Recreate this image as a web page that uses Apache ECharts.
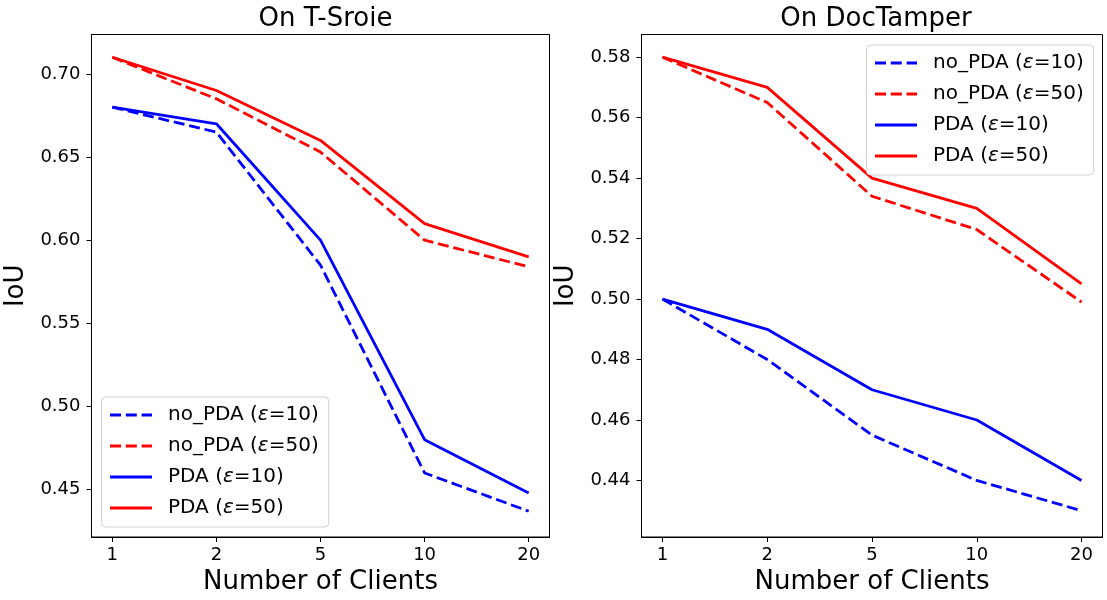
<!DOCTYPE html>
<html>
<head>
<meta charset="utf-8">
<script src="https://cdn.jsdelivr.net/npm/echarts@6/dist/echarts.min.js"></script>
<style>html,body{margin:0;padding:0;background:#fff;}#c{width:1107px;height:600px;}</style>
</head>
<body>
<div id="c"></div>
<script>
const categories = ['1', '2', '5', '10', '20'];
const seriesNames = ['no_PDA (ε=10)', 'no_PDA (ε=50)', 'PDA (ε=10)', 'PDA (ε=50)'];
// On T-Sroie
const sroieNoPDA10 = [0.680, 0.665, 0.585, 0.460, 0.437];
const sroieNoPDA50 = [0.710, 0.685, 0.653, 0.600, 0.584];
const sroiePDA10 = [0.680, 0.670, 0.600, 0.480, 0.448];
const sroiePDA50 = [0.710, 0.690, 0.660, 0.610, 0.590];
// On DocTamper
const docNoPDA10 = [0.500, 0.480, 0.455, 0.440, 0.430];
const docNoPDA50 = [0.580, 0.565, 0.534, 0.523, 0.499];
const docPDA10 = [0.500, 0.490, 0.470, 0.460, 0.440];
const docPDA50 = [0.580, 0.570, 0.540, 0.530, 0.505];
const sroieTicks = [0.45, 0.50, 0.55, 0.60, 0.65, 0.70];
const docTicks = [0.44, 0.46, 0.48, 0.50, 0.52, 0.54, 0.56, 0.58];

const FONT = 'DejaVu Sans';
const catIdx = categories.map((_, i) => i);
const toPts = arr => arr.map((v, i) => [i, v]);

function xAxis(gi) {
  return {
    type: 'value', gridIndex: gi, min: -0.2, max: 4.2,
    name: 'Number of Clients', nameLocation: 'middle', nameGap: 32,
    nameTextStyle: { fontSize: 26, fontFamily: FONT, color: '#000' },
    axisLine: { show: true, onZero: false, lineStyle: { color: '#000', width: 1 } },
    axisTick: { show: true, length: 5, lineStyle: { color: '#000' }, customValues: catIdx },
    axisLabel: { fontSize: 18, fontFamily: FONT, color: '#000', margin: 9, customValues: catIdx,
      formatter: v => categories[Math.round(v)] },
    splitLine: { show: false }
  };
}
function yAxis(gi, min, max, ticks) {
  return {
    type: 'value', gridIndex: gi, min: min, max: max,
    name: 'IoU', nameLocation: 'middle', nameGap: 62,
    nameTextStyle: { fontSize: 26, fontFamily: FONT, color: '#000' },
    axisLine: { show: true, onZero: false, lineStyle: { color: '#000', width: 1 } },
    axisTick: { show: true, length: 5, lineStyle: { color: '#000' }, customValues: ticks },
    axisLabel: { fontSize: 18, fontFamily: FONT, color: '#000', margin: 11, customValues: ticks,
      formatter: v => v.toFixed(2) },
    splitLine: { show: false }
  };
}
const DASH = [11, 4.8];
const styles = [
  { color: '#0000ff', type: DASH },
  { color: '#ff0000', type: DASH },
  { color: '#0000ff', type: 'solid' },
  { color: '#ff0000', type: 'solid' }
];
function mk(name, data, gi, st) {
  return {
    name: name, type: 'line', xAxisIndex: gi, yAxisIndex: gi,
    data: toPts(data), symbol: 'none', showSymbol: false, animation: false,
    color: st.color,
    lineStyle: { color: st.color, width: 2.8, type: st.type }
  };
}
function legend(left, top) {
  return {
    orient: 'vertical', left: left, top: top, data: seriesNames,
    itemWidth: 42, itemHeight: 14, itemGap: 7,
    backgroundColor: '#fff', borderColor: '#d0d0d0', borderWidth: 1, borderRadius: 4,
    padding: [6, 10, 7, 7],
    selectedMode: false,
    itemStyle: { opacity: 0 },
    lineStyle: { width: 3 },
    formatter: n => n.replace('ε', '{e|ε}'),
    textStyle: { fontSize: 20, fontFamily: FONT, color: '#000', lineHeight: 24, padding: [0, 0, 0, 11],
      rich: { e: { fontSize: 20, fontFamily: FONT, fontStyle: 'italic', color: '#000', lineHeight: 24 } } }
  };
}
const chart = echarts.init(document.getElementById('c'), null, { renderer: 'canvas' });
chart.setOption({
  backgroundColor: '#fff',
  animation: false,
  title: [
    { text: 'On T-Sroie', left: 320.5, top: 1, textAlign: 'center',
      textStyle: { fontSize: 26, fontWeight: 'normal', fontFamily: FONT, color: '#000' } },
    { text: 'On DocTamper', left: 871, top: 1, textAlign: 'center',
      textStyle: { fontSize: 26, fontWeight: 'normal', fontFamily: FONT, color: '#000' } }
  ],
  grid: [
    { left: 91.5, top: 34.5, width: 458, height: 505.5, show: true, borderColor: '#000', borderWidth: 1, backgroundColor: 'transparent' },
    { left: 641.5, top: 34.5, width: 461, height: 505.5, show: true, borderColor: '#000', borderWidth: 1, backgroundColor: 'transparent' }
  ],
  legend: [legend(101.5, 397), legend(866.5, 45)],
  xAxis: [xAxis(0), xAxis(1)],
  yAxis: [yAxis(0, 0.4215, 0.7237, sroieTicks), yAxis(1, 0.4213, 0.5875, docTicks)],
  series: [
    mk(seriesNames[0], sroieNoPDA10, 0, styles[0]),
    mk(seriesNames[1], sroieNoPDA50, 0, styles[1]),
    mk(seriesNames[2], sroiePDA10, 0, styles[2]),
    mk(seriesNames[3], sroiePDA50, 0, styles[3]),
    mk(seriesNames[0], docNoPDA10, 1, styles[0]),
    mk(seriesNames[1], docNoPDA50, 1, styles[1]),
    mk(seriesNames[2], docPDA10, 1, styles[2]),
    mk(seriesNames[3], docPDA50, 1, styles[3])
  ]
});
</script>
</body>
</html>
